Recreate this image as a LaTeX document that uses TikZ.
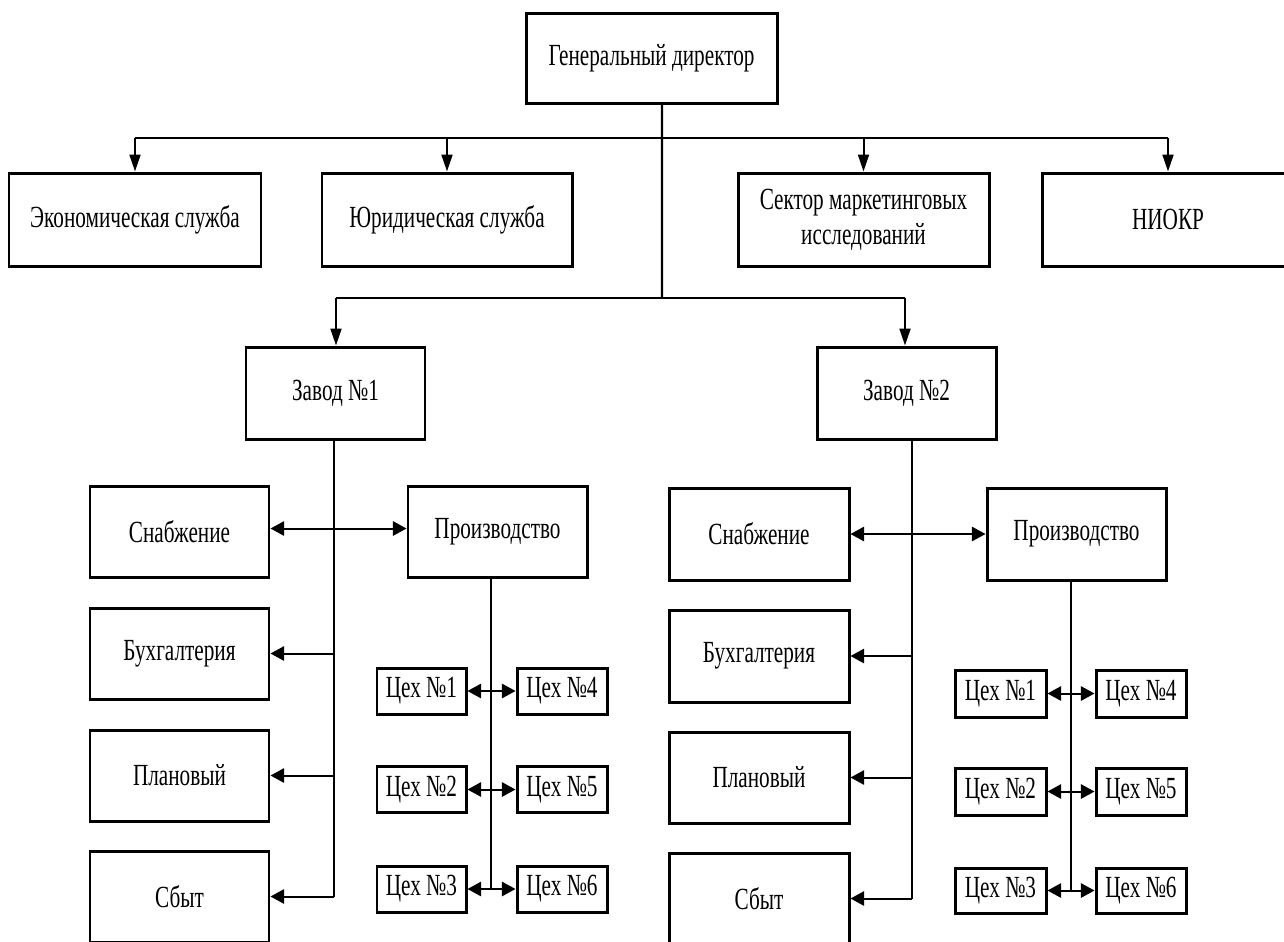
\documentclass[tikz,border=0pt]{standalone}
\usepackage{fontspec}
\setmainfont{Liberation Serif}[FakeStretch=0.69]
\usetikzlibrary{arrows.meta}
\newcommand{\bx}[6]{\node[box, minimum width=#4*0.02cm, minimum height=#5*0.02cm] (#1) at (#2,#3) {#6};}
\begin{document}
\begin{tikzpicture}[x=0.02cm,y=-0.02cm,
  box/.style={draw, line width=1.7pt, inner sep=0pt, align=center, font=\fontsize{17.5}{20}\selectfont},
  ln/.style={line width=1.15pt},
  av/.style={ln, -{Triangle[length=9.6pt,width=6.2pt]}},
  ah/.style={ln, -{Triangle[length=7.8pt,width=8.2pt]}},
  ahh/.style={ln, {Triangle[length=7.8pt,width=8.2pt]}-{Triangle[length=7.8pt,width=8.2pt]}}]
\useasboundingbox (0,0) rectangle (1284,941);
\clip (0,0) rectangle (1284,941);
\fill[white] (0,0) rectangle (1284,941);
% top
\bx{gd}{651.5}{58}{251}{90}{Генеральный директор}
\bx{econ}{135}{219.5}{252}{93}{Экономическая служба}
\bx{jur}{447}{219.5}{250}{93}{Юридическая служба}
\bx{mark}{863.5}{219.5}{251}{93}{Сектор маркетинговых\\исследований}
\bx{niokr}{1168}{219.5}{252}{93}{НИОКР}
\bx{z1}{335.5}{393}{179}{92}{Завод №1}
\bx{z2}{906.5}{393}{179}{92}{Завод №2}
% plant 1
\bx{sn1}{179.5}{531.5}{179}{91}{Снабжение}
\bx{pr1}{497.5}{531.5}{179}{91}{Производство}
\bx{bu1}{179.5}{653.5}{179}{91}{Бухгалтерия}
\bx{pl1}{179.5}{775.5}{179}{91}{Плановый}
\bx{sb1}{179.5}{896.5}{179}{91}{Сбыт}
\bx{a1}{421.5}{691}{89}{46}{Цех №1}
\bx{a2}{421.5}{789.5}{89}{46}{Цех №2}
\bx{a3}{421.5}{889}{89}{46}{Цех №3}
\bx{a4}{562}{691}{90}{46}{Цех №4}
\bx{a5}{562}{789.5}{90}{46}{Цех №5}
\bx{a6}{562}{889}{90}{46}{Цех №6}
% plant 2
\bx{sn2}{759}{534}{180}{92}{Снабжение}
\bx{pr2}{1076.5}{534}{179}{92}{Производство}
\bx{bu2}{759}{656}{180}{92}{Бухгалтерия}
\bx{pl2}{759}{777.5}{180}{91}{Плановый}
\bx{sb2}{759}{898.5}{180}{91}{Сбыт}
\bx{b1}{1000.5}{693.5}{91}{47}{Цех №1}
\bx{b2}{1000.5}{791.5}{91}{47}{Цех №2}
\bx{b3}{1000.5}{890.5}{91}{45}{Цех №3}
\bx{b4}{1141}{693.5}{90}{47}{Цех №4}
\bx{b5}{1141}{791.5}{90}{47}{Цех №5}
\bx{b6}{1141}{890.5}{90}{45}{Цех №6}
% junctions
\coordinate (j1) at (662,138);
\coordinate (j2) at (662,298);
\draw[ln] ([xshift=0.21cm]gd.south) -- (j2);
\draw[ln] (econ.north |- j1) -- (niokr.north |- j1);
\foreach \n in {econ,jur,mark,niokr} \draw[av] (\n.north |- j1) -- (\n.north);
\draw[ln] ([xshift=0.01cm]z1.north |- j2) -- ([xshift=-0.03cm]z2.north |- j2);
\draw[av] ([xshift=0.01cm]z1.north |- j2) -- ([xshift=0.01cm]z1.north);
\draw[av] ([xshift=-0.03cm]z2.north |- j2) -- ([xshift=-0.03cm]z2.north);
% plant 1 links
\coordinate (t1) at ([xshift=-0.03cm]z1.south);
\draw[ln] (t1) -- (t1 |- sb1.east);
\foreach \n in {bu1,pl1,sb1} \draw[ah] (t1 |- \n.east) -- (\n.east);
\draw[ahh] ([yshift=0.06cm]sn1.east) -- ([yshift=0.06cm]pr1.west);
\coordinate (t3) at ([xshift=-0.13cm]pr1.south);
\draw[ln] (t3) -- (t3 |- a3.east);
\draw[ahh] (a1.east) -- (a4.west);
\draw[ahh] (a2.east) -- (a5.west);
\draw[ahh] (a3.east) -- (a6.west);
% plant 2 links
\coordinate (t2) at ([xshift=0.11cm]z2.south);
\draw[ln] (t2) -- (t2 |- sb2.east);
\foreach \n in {bu2,pl2,sb2} \draw[ah] (t2 |- \n.east) -- (\n.east);
\draw[ahh] (sn2.east) -- (pr2.west);
\coordinate (t4) at ([xshift=-0.11cm]pr2.south);
\draw[ln] (t4) -- (t4 |- b3.east);
\draw[ahh] (b1.east) -- (b4.west);
\draw[ahh] (b2.east) -- (b5.west);
\draw[ahh] (b3.east) -- (b6.west);
\end{tikzpicture}
\end{document}
